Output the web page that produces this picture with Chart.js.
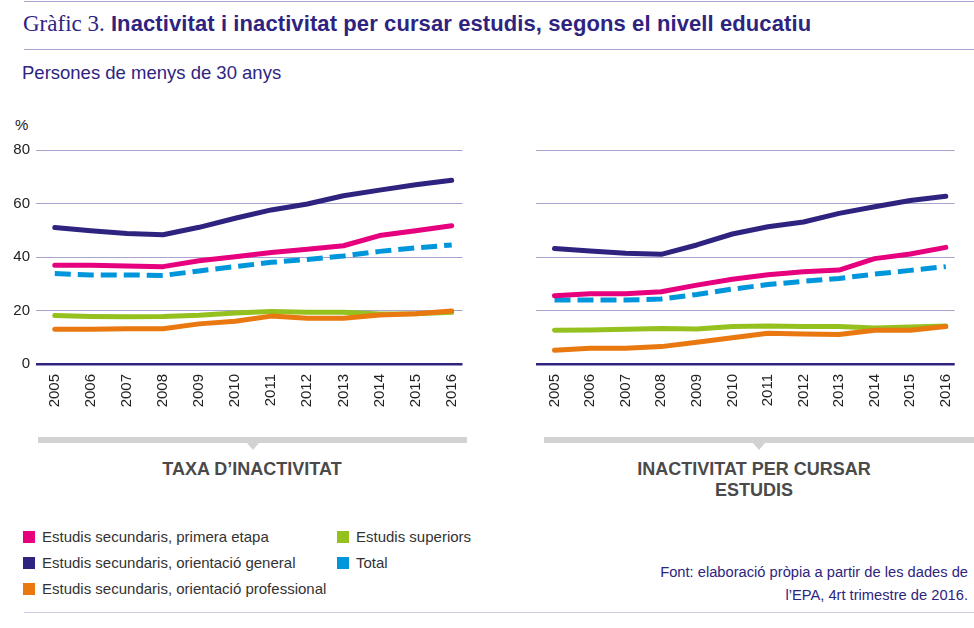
<!DOCTYPE html>
<html>
<head>
<meta charset="utf-8">
<script src="https://cdn.jsdelivr.net/npm/chart.js@4.4.0/dist/chart.umd.min.js"></script>
<style>
  body { margin: 0; background: #fff; font-family: "Liberation Sans", Arial, sans-serif; }
  #page { position: relative; width: 974px; height: 628px; overflow: hidden; }
  .hline { position: absolute; left: 24px; right: 0; height: 1px; background: #a9a3cf; }
  #title { position: absolute; left: 23px; top: 10px; color: #2e2480; font-size: 22px; line-height: 28px; white-space: nowrap; }
  #title .num { font-family: "Liberation Serif", serif; font-size: 23px; }
  #title b { font-weight: bold; letter-spacing: 0.1px; }
  #subtitle { position: absolute; left: 22px; top: 62px; color: #2e2480; font-size: 18.5px; line-height: 22px; }
  #pct { position: absolute; left: 15px; top: 116px; font-size: 15px; color: #222; }
  .box { position: absolute; top: 110px; height: 300px; }
  .bar { position: absolute; top: 437px; height: 6px; background: #d2d2d2; }
  .tri { position: absolute; top: 443px; width: 0; height: 0; border-left: 6px solid transparent; border-right: 6px solid transparent; border-top: 7px solid #d2d2d2; }
  .sect { position: absolute; top: 459px; width: 400px; text-align: center; font-weight: bold; font-size: 18px; color: #4a4a4a; line-height: 21px; }
  .leg { position: absolute; font-size: 15px; line-height: 18px; color: #333; white-space: nowrap; }
  .leg i { position: absolute; left: -19px; top: 3px; width: 12px; height: 12px; }
  #src { position: absolute; right: 6px; top: 561px; text-align: right; color: #2e2480; font-size: 14.7px; line-height: 23px; }
</style>
</head>
<body>
<div id="page">
  <div class="hline" style="top:1px"></div>
  <div id="title"><span class="num">Gràfic 3.</span> <b>Inactivitat i inactivitat per cursar estudis, segons el nivell educatiu</b></div>
  <div class="hline" style="top:49px"></div>
  <div id="subtitle">Persones de menys de 30 anys</div>
  <div id="pct">%</div>

  <div class="box" style="left:0;width:480px"><canvas id="c1"></canvas></div>
  <div class="box" style="left:500px;width:474px"><canvas id="c2"></canvas></div>

  <div class="bar" style="left:38px;width:429px"></div>
  <div class="tri" style="left:247px"></div>
  <div class="bar" style="left:544px;width:430px"></div>
  <div class="tri" style="left:753px"></div>
  <div class="sect" style="left:52px">TAXA D’INACTIVITAT</div>
  <div class="sect" style="left:554px">INACTIVITAT PER CURSAR<br>ESTUDIS</div>

  <div id="legend"></div>
  <div id="src">Font: elaboració pròpia a partir de les dades de<br>l’EPA, 4rt trimestre de 2016.</div>
  <div class="hline" style="top:612px;background:#cfcce3"></div>
</div>

<script>
const years = [2005, 2006, 2007, 2008, 2009, 2010, 2011, 2012, 2013, 2014, 2015, 2016];

// Taxa d'inactivitat
const inactGeneral   = [51.0, 49.8, 48.8, 48.3, 51.1, 54.5, 57.6, 59.8, 62.9, 65.0, 67.0, 68.7];
const inactPrimera   = [36.9, 36.9, 36.6, 36.4, 38.6, 40.1, 41.7, 42.9, 44.2, 48.0, 49.8, 51.7];
const inactProfess   = [13.0, 13.0, 13.2, 13.2, 15.0, 16.0, 17.9, 17.1, 17.1, 18.3, 18.8, 19.8];
const inactTotal     = [33.8, 33.3, 33.3, 33.1, 34.8, 36.4, 38.0, 39.1, 40.4, 42.1, 43.4, 44.5];
const inactSuperiors = [18.1, 17.8, 17.7, 17.8, 18.2, 19.1, 19.6, 19.3, 19.3, 18.7, 18.8, 19.3];

// Inactivitat per cursar estudis
const estudGeneral   = [43.2, 42.2, 41.4, 41.0, 44.5, 48.6, 51.3, 53.1, 56.3, 58.8, 61.1, 62.7];
const estudPrimera   = [25.5, 26.3, 26.3, 27.0, 29.5, 31.7, 33.4, 34.5, 35.1, 39.4, 41.1, 43.6];
const estudProfess   = [5.1, 5.9, 5.9, 6.5, 8.1, 9.8, 11.5, 11.2, 11.0, 12.6, 12.6, 14.0];
const estudTotal     = [23.9, 23.9, 23.9, 24.3, 26.0, 28.0, 29.7, 30.9, 32.0, 33.6, 35.0, 36.4];
const estudSuperiors = [12.6, 12.7, 13.0, 13.3, 13.1, 14.0, 14.2, 14.0, 14.0, 13.5, 13.8, 14.2];

const yTicks = [0, 20, 40, 60, 80];

const colors = {
  primera: '#e6007e',
  general: '#2e2480',
  profess: '#e8780f',
  superiors: '#95c11f',
  total: '#0096db'
};

// llegenda
const legendItems = [
  ['Estudis secundaris, primera etapa', colors.primera, 42, 528],
  ['Estudis secundaris, orientació general', colors.general, 42, 554],
  ['Estudis secundaris, orientació professional', colors.profess, 42, 580],
  ['Estudis superiors', colors.superiors, 356, 528],
  ['Total', colors.total, 356, 554]
];
const legend = document.getElementById('legend');
legendItems.forEach(it => {
  const d = document.createElement('div');
  d.className = 'leg';
  d.style.left = it[2] + 'px';
  d.style.top = it[3] + 'px';
  d.innerHTML = '<i style="background:' + it[1] + '"></i>' + it[0];
  legend.appendChild(d);
});

function pts(vals) {
  return vals.map((v, i) => ({ x: years[i], y: v }));
}

function makeChart(id, general, primera, profess, total, superiors, showY, padRight, xMax) {
  const line = (data, color, dash) => ({
    data: pts(data),
    borderColor: color,
    borderWidth: 5,
    borderDash: dash || [],
    borderCapStyle: dash ? 'butt' : 'round',
    borderJoinStyle: 'round',
    pointRadius: 0,
    tension: 0,
    fill: false
  });
  new Chart(document.getElementById(id), {
    type: 'line',
    data: {
      datasets: [
        line(general, colors.general),
        line(primera, colors.primera),
        line(profess, colors.profess),
        line(total, colors.total, [16, 7]),
        line(superiors, colors.superiors)
      ]
    },
    options: {
      responsive: true,
      maintainAspectRatio: false,
      animation: false,
      layout: { padding: { left: 0, right: padRight, top: 40, bottom: 0 } },
      plugins: { legend: { display: false }, tooltip: { enabled: false } },
      scales: {
        x: {
          type: 'linear',
          min: 2004.48,
          max: xMax,
          border: { display: false },
          grid: { display: false, drawTicks: false },
          afterFit: s => { s.height = 46; },
          ticks: {
            stepSize: 1,
            includeBounds: false,
            autoSkip: false,
            minRotation: 90,
            maxRotation: 90,
            padding: 10,
            color: '#222',
            font: { family: 'Liberation Sans', size: 15 },
            callback: v => String(v)
          }
        },
        y: {
          min: 0,
          max: 80,
          afterBuildTicks: s => { s.ticks = yTicks.map(v => ({ value: v })); },
          afterFit: s => { s.width = 36; },
          border: { display: false },
          grid: {
            drawTicks: false,
            color: c => c.tick.value === 0 ? '#2e2480' : '#a9a3cf',
            lineWidth: c => c.tick.value === 0 ? 2.5 : 1
          },
          ticks: {
            display: showY,
            padding: 6,
            color: '#222',
            font: { family: 'Liberation Sans', size: 15 }
          }
        }
      }
    }
  });
}

makeChart('c1', inactGeneral, inactPrimera, inactProfess, inactTotal, inactSuperiors, true, 12, 2016.3);
makeChart('c2', estudGeneral, estudPrimera, estudProfess, estudTotal, estudSuperiors, false, 9, 2016.25);
</script>
</body>
</html>
